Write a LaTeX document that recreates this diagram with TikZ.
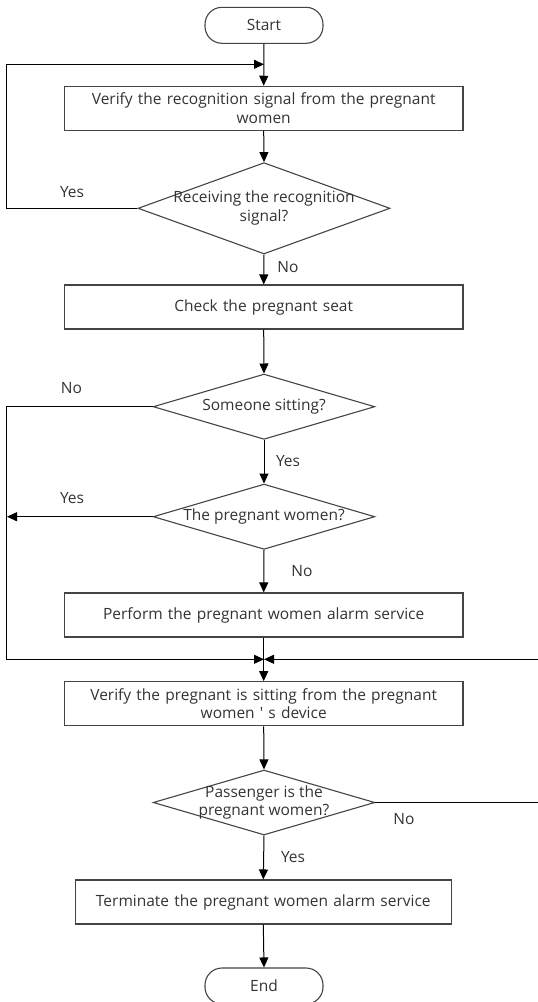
\documentclass[tikz,border=0pt]{standalone}
\usepackage{fontspec}
\setmainfont{Open Sans}[Ligatures=TeXOff]
\usetikzlibrary{arrows.meta,shapes.geometric}
\definecolor{txtc}{HTML}{333333}
\definecolor{edgec}{HTML}{444444}
\tikzset{
  box/.style={draw=edgec,line width=1.1pt,rectangle,minimum height=44pt,inner sep=0pt,text=txtc,align=center,font=\fontsize{15.5}{18.5}\selectfont},
  term/.style={draw=edgec,line width=1.1pt,rectangle,rounded corners=17pt,minimum width=118pt,minimum height=36pt,inner sep=0pt,text=txtc,font=\fontsize{15.5}{18}\selectfont},
  dia/.style={draw=edgec,line width=1.1pt,diamond,inner sep=0pt,minimum width=221.6pt,minimum height=65.3pt},
  dtxt/.style={text=txtc,align=center,inner sep=0pt,font=\fontsize{15.5}{18.5}\selectfont},
  lbl/.style={text=txtc,inner sep=0pt,font=\fontsize{15.5}{18}\selectfont},
  conn/.style={draw=black,line width=1pt},
  arr/.style={conn,-{Triangle[length=10pt,width=9pt]}},
}
\begin{document}
\begin{tikzpicture}[x=1pt,y=-1pt]
\useasboundingbox (0,0) rectangle (538,1002);
% nodes
\node[term] (start) at (264,25.3) {Start};
\node[box,minimum width=398.5pt,text width=390pt] (b1) at (263.7,108.3) {Verify the recognition signal from the pregnant\\women};
\node[dia,minimum width=252pt,minimum height=91.3pt] (d1) at (264,208.3) {};
\node[dtxt] (d1t) at (264,208) {Receiving the recognition\\signal?};
\node[box,minimum width=398.5pt,text width=390pt] (b2) at (263.7,307) {Check the pregnant seat};
\node[dia] (d2) at (264,406.7) {};
\node[dtxt] (d2t) at (264,406.7) {Someone sitting?};
\node[dia] (d3) at (264,516.7) {};
\node[dtxt] (d3t) at (264,516.7) {The pregnant women?};
\node[box,minimum width=398.5pt,text width=390pt] (b3) at (263.7,615) {Perform the pregnant women alarm service};
\coordinate (m) at (264,659.3);
\node[box,minimum width=398.5pt,text width=390pt] (b4) at (263.7,703.7) {Verify the pregnant is sitting from the pregnant\\women ' s device};
\node[dia,minimum height=65pt] (d4) at (264,802.5) {};
\node[dtxt] (d4t) at (264,802.5) {Passenger is the\\pregnant women?};
\node[box,minimum width=375.5pt,text width=370pt] (b5) at (263.3,902) {Terminate the pregnant women alarm service};
\node[term] (end) at (264,986) {End};
% helper coordinates
\coordinate (lp) at (264,64.3);
\coordinate (l1) at (6,208.3);
\coordinate (l1t) at (6,64.3);
\coordinate (l2) at (6,406.7);
\coordinate (l2b) at (6,659.3);
\coordinate (l3) at (7,516.7);
\coordinate (r4) at (540,802.5);
\coordinate (r4t) at (540,659.3);
% connectors
\draw[arr] (start.south) -- (b1.north);
\draw[arr] (d1.west) -- (l1) -- (l1t) -- (lp);
\draw[arr] (b1.south) -- (d1.north);
\draw[arr] (d1.south) -- (b2.north);
\draw[arr] (b2.south) -- (d2.north);
\draw[arr] (d2.south) -- (d3.north);
\draw[arr] (d3.south) -- (b3.north);
\draw[arr] (d2.west) -- (l2) -- (l2b) -- (m);
\draw[arr] (d3.west) -- (l3);
\draw[arr] (d4.east) -- (r4) -- (r4t) -- (m);
\draw[arr] (b3.south) -- (b4.north);
\draw[arr] (b4.south) -- (d4.north);
\draw[arr] (d4.south) -- (b5.north);
\draw[arr] (b5.south) -- (end.north);
% labels
\node[lbl] (y1) at (72,192) {Yes};
\node[lbl] (n1) at (288,267) {No};
\node[lbl] (n2) at (71.5,388.3) {No};
\node[lbl] (y2) at (288,460.7) {Yes};
\node[lbl] (y3) at (72,498.3) {Yes};
\node[lbl] (n3) at (302,570.7) {No};
\node[lbl] (n4) at (404,819.3) {No};
\node[lbl] (y4) at (293,856.7) {Yes};
\end{tikzpicture}
\end{document}
